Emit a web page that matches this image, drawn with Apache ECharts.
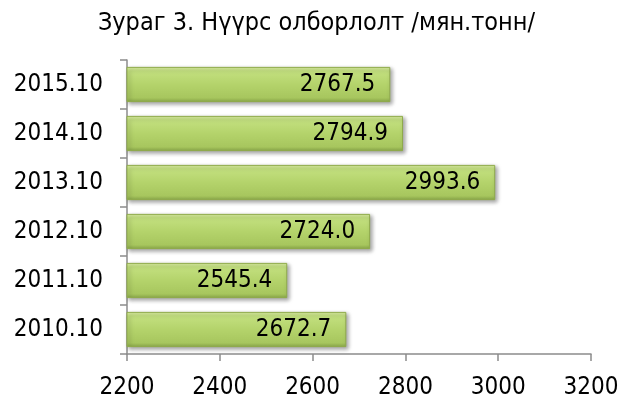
<!DOCTYPE html>
<html>
<head>
<meta charset="utf-8">
<script src="https://cdn.jsdelivr.net/npm/echarts@6/dist/echarts.min.js"></script>
<style>
  html, body { margin: 0; padding: 0; background: #fff; }
  #chart { width: 633px; height: 400px; }
</style>
</head>
<body>
<div id="chart"></div>
<script>
// өгөгдөл
const titleText = 'Зураг 3. Нүүрс олборлолт /мян.тонн/';
const periods = ['2010.10', '2011.10', '2012.10', '2013.10', '2014.10', '2015.10'];
const output = [2672.7, 2545.4, 2724.0, 2993.6, 2794.9, 2767.5];
const xTicks = [2200, 2400, 2600, 2800, 3000, 3200];

const fontFam = '"DejaVu Sans Condensed", "DejaVu Sans", sans-serif';
const chart = echarts.init(document.getElementById('chart'));

const barFill = new echarts.graphic.LinearGradient(0, 0, 0, 1, [
  { offset: 0, color: '#dcefa4' },
  { offset: 0.12, color: '#c3e07f' },
  { offset: 0.5, color: '#b4d36b' },
  { offset: 0.88, color: '#a7c65e' },
  { offset: 1, color: '#89a849' }
]);

chart.setOption({
  animation: false,
  title: {
    text: titleText,
    left: 'center',
    top: 6,
    textStyle: { fontFamily: fontFam, fontSize: 25, fontWeight: 'normal', color: '#000' }
  },
  grid: { left: 127, right: 42, top: 60, bottom: 46 },
  xAxis: {
    type: 'value',
    min: xTicks[0],
    max: xTicks[xTicks.length - 1],
    interval: 200,
    splitLine: { show: false },
    axisLine: { show: true, lineStyle: { color: '#8c8c8c', width: 1.5 } },
    axisTick: { show: true, length: 7, lineStyle: { color: '#8c8c8c', width: 1.5 } },
    axisLabel: { fontFamily: fontFam, fontSize: 24, color: '#000', margin: 22, formatter: v => String(v) }
  },
  yAxis: {
    type: 'category',
    data: periods,
    axisLine: { lineStyle: { color: '#8c8c8c', width: 1.5 } },
    axisTick: { show: true, length: 7, lineStyle: { color: '#8c8c8c', width: 1.5 } },
    axisLabel: { fontFamily: fontFam, fontSize: 24, color: '#000', margin: 24 }
  },
  series: [{
    type: 'bar',
    data: output,
    barCategoryGap: '28%',
    itemStyle: {
      color: barFill,
      borderColor: '#8fab4b',
      borderWidth: 1,
      shadowColor: 'rgba(0,0,0,0.35)',
      shadowBlur: 4,
      shadowOffsetX: 2,
      shadowOffsetY: 2
    },
    label: {
      show: true,
      position: 'insideRight',
      distance: 15,
      formatter: p => p.value.toFixed(1),
      fontFamily: fontFam,
      fontSize: 24,
      color: '#000'
    }
  }]
});
</script>
</body>
</html>
